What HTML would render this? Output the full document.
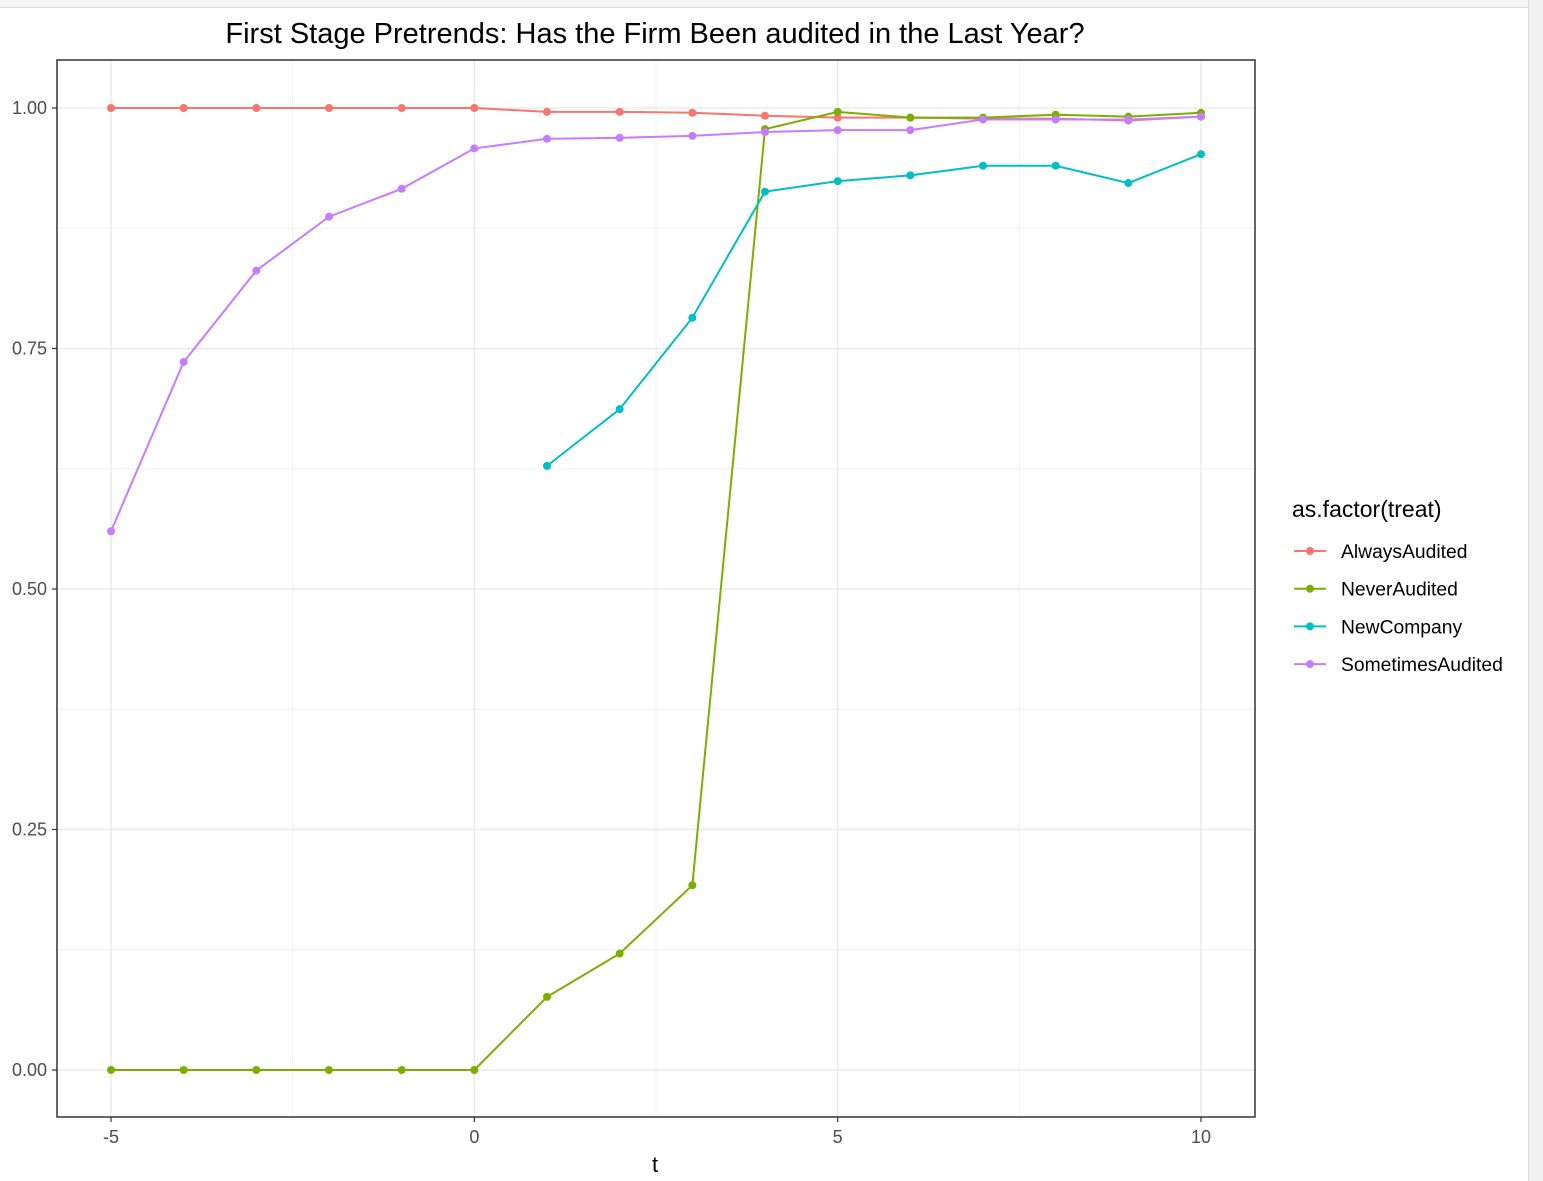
<!DOCTYPE html>
<html><head><meta charset="utf-8"><style>
html,body{margin:0;padding:0;background:#fff;width:1543px;height:1181px;overflow:hidden;font-family:"Liberation Sans",Arial,sans-serif}
</style></head><body>
<svg id="chart" width="1543" height="1181" xmlns="http://www.w3.org/2000/svg">
<rect x="0" y="0" width="1543" height="7" fill="#f3f5f7"/>
<line x1="0" y1="7.5" x2="1528" y2="7.5" stroke="#d8dadd"/>
<rect x="1528" y="0" width="15" height="1181" fill="#f1f1f1"/>
<line x1="1528.5" y1="0" x2="1528.5" y2="1181" stroke="#dcdcdc"/>
<text x="655" y="43" text-anchor="middle" font-size="29" fill="#000">First Stage Pretrends: Has the Firm Been audited in the Last Year?</text>
<g id="grid"></g>
<g id="series"></g>
<rect x="57" y="60" width="1198" height="1057" fill="none" stroke="#333" stroke-width="1.5"/>
<g id="axes"></g>
<text x="655" y="1172" text-anchor="middle" font-size="22" fill="#000">t</text>
<g id="legend"></g>
</svg>
<script>
const tValues=[-5,-4,-3,-2,-1,0,1,2,3,4,5,6,7,8,9,10];
const alwaysAudited=[1,1,1,1,1,1,0.996,0.996,0.995,0.992,0.990,0.990,0.989,0.989,0.987,0.991];
const neverAudited=[0,0,0,0,0,0,0.076,0.121,0.192,0.978,0.996,0.990,0.990,0.993,0.991,0.995];
const newCompany=[null,null,null,null,null,null,0.628,0.687,0.782,0.913,0.924,0.930,0.940,0.940,0.922,0.952];
const sometimesAudited=[0.560,0.736,0.831,0.887,0.916,0.958,0.968,0.969,0.971,0.975,0.977,0.977,0.988,0.988,0.988,0.991];
const seriesNames=["AlwaysAudited","NeverAudited","NewCompany","SometimesAudited"];
const xTicks=[-5,0,5,10];
const yTicks=[0,0.25,0.5,0.75,1];
const yTickLabels=["0.00","0.25","0.50","0.75","1.00"];

const colors=["#F8766D","#7CAE00","#00BFC4","#C77CFF"];
const X=v=>111+(v+5)*(1201-111)/15;
const Y=v=>1070-v*962;
const NS="http://www.w3.org/2000/svg";
function mk(tag,attrs,parent){const e=document.createElementNS(NS,tag);for(const k in attrs)e.setAttribute(k,attrs[k]);parent.appendChild(e);return e;}
const grid=document.getElementById('grid'),axes=document.getElementById('axes'),ser=document.getElementById('series'),leg=document.getElementById('legend');
mk('rect',{x:57,y:60,width:1198,height:1057,fill:'#fff'},grid);
for(let i=0;i<xTicks.length-1;i++){const m=(xTicks[i]+xTicks[i+1])/2;const l=mk('line',{x1:X(m),x2:X(m),y1:60,y2:1117,stroke:'#f2f2f2','stroke-width':1},grid);}
for(let i=0;i<yTicks.length-1;i++){const m=(yTicks[i]+yTicks[i+1])/2;const l=mk('line',{x1:57,x2:1255,y1:Y(m),y2:Y(m),stroke:'#f2f2f2','stroke-width':1},grid);}
xTicks.forEach(v=>{const l=mk('line',{x1:X(v),x2:X(v),y1:60,y2:1117,stroke:'#ebebeb','stroke-width':1.5},grid);
 mk('line',{x1:X(v),x2:X(v),y1:1117,y2:1122,stroke:'#333','stroke-width':1.2},axes);
 const t=mk('text',{x:X(v),y:1143,'text-anchor':'middle','font-size':18,fill:'#4d4d4d'},axes);t.textContent=v;});
yTicks.forEach((v,i)=>{const l=mk('line',{x1:57,x2:1255,y1:Y(v),y2:Y(v),stroke:'#ebebeb','stroke-width':1.5},grid);
 mk('line',{x1:52,x2:57,y1:Y(v),y2:Y(v),stroke:'#333','stroke-width':1.2},axes);
 const t=mk('text',{x:47,y:Y(v)+6,'text-anchor':'end','font-size':18,fill:'#4d4d4d'},axes);t.textContent=yTickLabels[i];});
[alwaysAudited,neverAudited,newCompany,sometimesAudited].forEach((arr,si)=>{
 const g=mk('g',{},ser);
 let d='';arr.forEach((v,i)=>{if(v===null)return;d+=(d?'L':'M')+X(tValues[i])+','+Y(v);});
 const p=mk('path',{d:d,fill:'none',stroke:colors[si],'stroke-width':2},g);
 arr.forEach((v,i)=>{if(v===null)return;const c=mk('circle',{cx:X(tValues[i]),cy:Y(v),r:4,fill:colors[si]},g);});
});
const lt=mk('text',{x:1292,y:517,'font-size':23,fill:'#000'},leg);lt.textContent='as.factor(treat)';
seriesNames.forEach((n,i)=>{const y=551+i*37.7;const g=mk('g',{},leg);
 mk('line',{x1:1294,x2:1326,y1:y,y2:y,stroke:colors[i],'stroke-width':2},g);mk('circle',{cx:1310,cy:y,r:4,fill:colors[i]},g);
 const t=mk('text',{x:1341,y:y+7,'font-size':19.3,fill:'#000'},g);t.textContent=n;});
</script>
</body></html>
